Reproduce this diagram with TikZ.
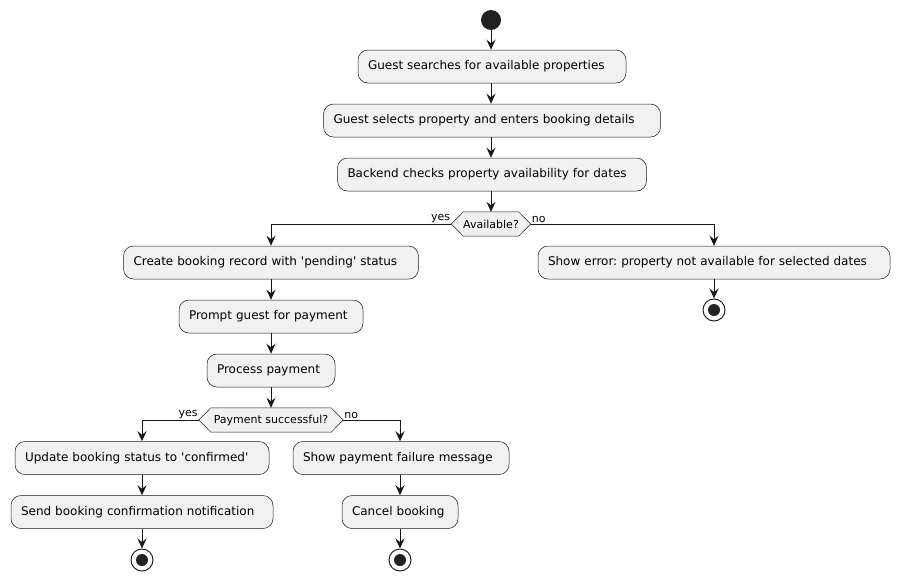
\documentclass[tikz,border=0pt]{standalone}
\usepackage{fontspec}
\setmainfont{DejaVu Sans}
\usetikzlibrary{arrows.meta,calc}
\definecolor{lineC}{HTML}{181818}
\definecolor{boxC}{HTML}{F1F1F1}
\definecolor{dotC}{HTML}{222222}
\frenchspacing
\tikzset{
  act/.style={draw=lineC, fill=boxC, line width=0.5pt, rounded corners=10pt,
    minimum height=33pt, inner xsep=10pt, inner ysep=0pt, align=left,
    font=\fontsize{12}{14}\selectfont, text=black},
  dec/.style={minimum height=24pt, inner sep=0pt, font=\fontsize{11}{13}\selectfont},
  hexa/.style={draw=lineC, fill=boxC, line width=0.5pt},
  arr/.style={draw=lineC, line width=1pt, -{Stealth[length=10pt,width=9pt,inset=3.5pt]}},
  lbl/.style={font=\fontsize{11}{13}\selectfont, inner sep=1pt},
  startdot/.style={circle, fill=dotC, minimum size=20pt, inner sep=0pt},
  stopdot/.style={circle, draw=dotC, line width=1pt, fill=white, minimum size=22pt, inner sep=0pt,
    path picture={\fill[dotC] (path picture bounding box.center) circle (6pt);}},
}
\begin{document}
\begin{tikzpicture}[x=1pt,y=-1pt]
\useasboundingbox (0,0) rectangle (901,582);
% main column
\node[startdot] (start) at (491,20) {};
\node[act, text width=248pt] (b1) at (492,66.5) {Guest searches for available properties};
\node[act, text width=317pt] (b2) at (492,120.5) {Guest selects property and enters booking details};
\node[act, text width=289pt] (b3) at (492,174.5) {Backend checks property availability for dates};
\node[dec, minimum width=79pt] (d1) at (491,224) {};
% left branch
\node[act, text width=275pt] (b4) at (271,262.5) {Create booking record with \textquotesingle pending\textquotesingle{} status};
\node[act, text width=164pt] (b5) at (271,316.5) {Prompt guest for payment};
\node[act, text width=108pt] (b6) at (271,370.5) {Process payment};
\node[dec, minimum width=144pt] (d2) at (271,420) {};
\node[act, text width=234pt] (b7) at (142,458) {Update booking status to \textquotesingle confirmed\textquotesingle};
\node[act, text width=242pt] (b8) at (142,512) {Send booking confirmation notification};
\node[stopdot] (s1) at (142,560) {};
\node[act, text width=196pt] (b9) at (401,458) {Show payment failure message};
\node[act, text width=96pt] (b10) at (400,512) {Cancel booking};
\node[stopdot] (s2) at (400,560) {};
% right branch
\node[act, text width=332pt] (b11) at (714,262.5) {Show error: property not available for selected dates};
\node[stopdot] (s3) at (714,310) {};
% hexagons
\draw[hexa] (d1.west) -- ($(d1.north west)+(12,0)$) -- ($(d1.north east)+(-12,0)$) -- (d1.east)
  -- ($(d1.south east)+(-12,0)$) -- ($(d1.south west)+(12,0)$) -- cycle;
\draw[hexa] (d2.west) -- ($(d2.north west)+(12,0)$) -- ($(d2.north east)+(-12,0)$) -- (d2.east)
  -- ($(d2.south east)+(-12,0)$) -- ($(d2.south west)+(12,0)$) -- cycle;
\node[dec] (t1) at (d1) {Available?};
\node[dec] (t2) at (d2) {Payment successful?};
% connectors
\draw[arr] (start) -- (start |- b1.north);
\draw[arr] (start |- b1.south) -- (start |- b2.north);
\draw[arr] (start |- b2.south) -- (start |- b3.north);
\draw[arr] (start |- b3.south) -- (d1.north);
\draw[arr] (d1.west) -| (b4.north);
\draw[arr] (d1.east) -| (b11.north);
\draw[arr] (b4) -- (b5);
\draw[arr] (b5) -- (b6);
\draw[arr] (b6) -- (d2.north);
\draw[arr] (d2.west) -| (b7.north);
\draw[arr] (d2.east) -| (b9.north -| b10);
\draw[arr] (b7) -- (b8);
\draw[arr] (b8) -- (s1);
\draw[arr] (b9.south -| b10) -- (b10);
\draw[arr] (b10) -- (s2);
\draw[arr] (b11) -- (s3);
% labels
\node[lbl, anchor=south east] at (d1.west) {yes};
\node[lbl, anchor=south west] at (d1.east) {no};
\node[lbl, anchor=south east] at (d2.west) {yes};
\node[lbl, anchor=south west] at (d2.east) {no};
\end{tikzpicture}
\end{document}
